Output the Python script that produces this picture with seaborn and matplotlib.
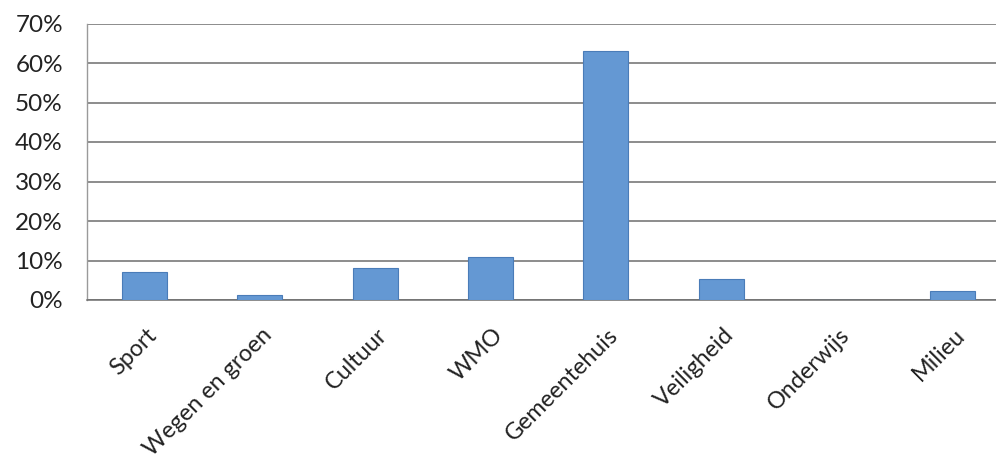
import matplotlib
matplotlib.use("Agg")
import matplotlib.pyplot as plt
import matplotlib.transforms as mtransforms
from matplotlib.ticker import PercentFormatter
import seaborn as sns
import pandas as pd

categories = ["Sport", "Wegen en groen", "Cultuur", "WMO", "Gemeentehuis",
              "Veiligheid", "Onderwijs", "Milieu"]
values = [7.0, 1.2, 8.2, 11.0, 63.0, 5.3, 0.0, 2.4]
y_ticks = [0, 10, 20, 30, 40, 50, 60, 70]

df = pd.DataFrame({"categorie": categories, "percentage": values})

sns.set_theme(style="white")
plt.rcParams["font.family"] = ["Lato", "DejaVu Sans"]

W, H = 996, 459
fig = plt.figure(figsize=(W / 100, H / 100), dpi=100)
left_px, right_px, top_px, bottom_px = 86.5, 1010, 23.5, 300
ax = fig.add_axes([left_px / W, 1 - bottom_px / H,
                   (right_px - left_px) / W, (bottom_px - top_px) / H])

sns.barplot(data=df, x="categorie", y="percentage", ax=ax,
            color="#6498d3", saturation=1, width=0.39,
            edgecolor="#4a7cb8", linewidth=0.8, zorder=3)

ax.set_xlim(-0.5, len(categories) - 0.5)
ax.set_ylim(0, 70)
ax.set_yticks(y_ticks)
ax.yaxis.set_major_formatter(PercentFormatter(xmax=100, decimals=0))
ax.grid(axis="y", color="#6e6e6e", linewidth=1.1, zorder=0)
ax.set_axisbelow(True)

for s in ["top", "right"]:
    ax.spines[s].set_visible(False)
ax.spines["left"].set_color("#9a9a9a")
ax.spines["left"].set_linewidth(1.0)
ax.spines["bottom"].set_color("#6e6e6e")
ax.spines["bottom"].set_linewidth(1.1)

ax.set_xlabel("")
ax.set_ylabel("")
ax.tick_params(axis="y", length=0, pad=17, labelsize=17.5, labelcolor="#222222")
ax.tick_params(axis="x", length=0, pad=0, labelsize=16.8, labelcolor="#222222")

offset = mtransforms.ScaledTranslation(9 / 100, -32 / 100, fig.dpi_scale_trans)
for lbl in ax.get_xticklabels():
    lbl.set_rotation(45)
    lbl.set_ha("right")
    lbl.set_va("center")
    lbl.set_rotation_mode("anchor")
    lbl.set_transform(lbl.get_transform() + offset)

fig.savefig("out.png", dpi=100, facecolor="white")
